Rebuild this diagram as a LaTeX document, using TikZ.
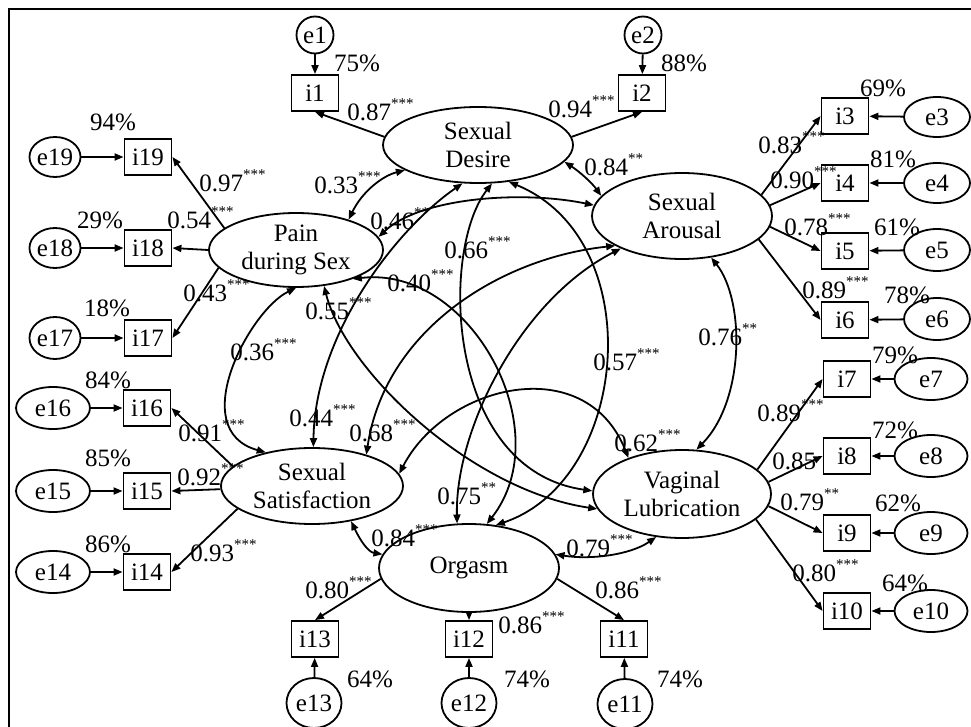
\documentclass[tikz,border=0pt]{standalone}
\usepackage{fontspec}
\setmainfont{Liberation Serif}
\usetikzlibrary{shapes.geometric,arrows.meta}
\newcommand\sig[1]{\raisebox{12pt}{\fontsize{15}{15}\selectfont #1}}
\newcommand\lb[4]{\node[lbl] (#1) at ({#2-21.9},{#3+8.5}) {#4};}
\newcommand\pc[4]{\node[pct] (#1) at (#2,{#3+8.5}) {#4};}
\begin{document}
\begin{tikzpicture}[x=1pt,y=-1pt,
  every node/.style={font=\fontsize{25}{28}\selectfont},
  lat/.style={ellipse,draw,line width=1.8pt,inner sep=0pt,align=center},
  obs/.style={rectangle,draw,line width=1.8pt,minimum width=47pt,minimum height=36pt,inner sep=0pt},
  err/.style={ellipse,draw,line width=1.8pt,inner sep=0pt},
  ld/.style={line width=1.8pt,-{Triangle[length=9pt,width=7pt]}},
  cv/.style={line width=1.8pt,{Triangle[length=9pt,width=7pt]}-{Triangle[length=9pt,width=7pt]}},
  lbl/.style={anchor=base west,inner sep=0pt},
  pct/.style={anchor=base,inner sep=0pt}]
\useasboundingbox (0,0) rectangle (971,727);
\draw[line width=2pt] (9,740) -- (9,9) -- (985,9);

% latent factors
\node[lat,minimum width=190pt,minimum height=76pt] (D) at (478,145) {Sexual\\Desire};
\node[lat,minimum width=180pt,minimum height=86pt] (A) at (682,216) {Sexual\\Arousal};
\node[lat,minimum width=174pt,minimum height=74pt] (P) at (296,250) {Pain\\during Sex};
\node[lat,minimum width=182pt,minimum height=76pt] (S) at (312,486) {Sexual\\Satisfaction};
\node[lat,minimum width=180pt,minimum height=88pt] (O) at (469,568) {Orgasm};
\node[lat,minimum width=178pt,minimum height=88pt] (V) at (682,494) {Vaginal\\Lubrication};

% indicators
\node[obs] (i1) at (315,93) {i1};
\node[obs] (i2) at (642,93) {i2};
\node[obs] (i3) at (845,116) {i3};
\node[obs] (i4) at (845,183) {i4};
\node[obs] (i5) at (845,251) {i5};
\node[obs] (i6) at (845,320) {i6};
\node[obs] (i7) at (847,379) {i7};
\node[obs] (i8) at (847,456) {i8};
\node[obs] (i9) at (847,533) {i9};
\node[obs] (i10) at (847,611) {i10};
\node[obs] (i11) at (624,639) {i11};
\node[obs] (i12) at (469,639) {i12};
\node[obs] (i13) at (315,639) {i13};
\node[obs] (i14) at (147,572) {i14};
\node[obs] (i15) at (147,491) {i15};
\node[obs] (i16) at (147,408) {i16};
\node[obs] (i17) at (148,338) {i17};
\node[obs] (i18) at (148,248) {i18};
\node[obs] (i19) at (148,157) {i19};

% errors
\node[err,minimum width=37pt,minimum height=37pt] (e1) at (315,35) {e1};
\node[err,minimum width=37pt,minimum height=37pt] (e2) at (643,35) {e2};
\node[err,minimum width=66pt,minimum height=40pt] (e3) at (937,117) {e3};
\node[err,minimum width=66pt,minimum height=40pt] (e4) at (937,183) {e4};
\node[err,minimum width=66pt,minimum height=42pt] (e5) at (937,250) {e5};
\node[err,minimum width=66pt,minimum height=42pt] (e6) at (937,319) {e6};
\node[err,minimum width=73pt,minimum height=42pt] (e7) at (931,379) {e7};
\node[err,minimum width=73pt,minimum height=42pt] (e8) at (931,456) {e8};
\node[err,minimum width=73pt,minimum height=42pt] (e9) at (931,533) {e9};
\node[err,minimum width=73pt,minimum height=42pt] (e10) at (931,611) {e10};
\node[err,minimum width=55pt,minimum height=50pt] (e11) at (625,704) {e11};
\node[err,minimum width=55pt,minimum height=50pt] (e12) at (469,703) {e12};
\node[err,minimum width=55pt,minimum height=50pt] (e13) at (314,703) {e13};
\node[err,minimum width=74pt,minimum height=42pt] (e14) at (53,572) {e14};
\node[err,minimum width=74pt,minimum height=42pt] (e15) at (53,491) {e15};
\node[err,minimum width=74pt,minimum height=42pt] (e16) at (53,408) {e16};
\node[err,minimum width=47pt,minimum height=42pt] (e17) at (55,338) {e17};
\node[err,minimum width=47pt,minimum height=40pt] (e18) at (55,248) {e18};
\node[err,minimum width=47pt,minimum height=40pt] (e19) at (55,157) {e19};

% error arrows
\foreach \k in {1,...,19} {\draw[ld] (e\k) -- (i\k);}

% loadings
\draw[ld] (D.175) -- (i1.south);
\draw[ld] (D.5) -- (i2.south);
\draw[ld] (A.15) -- (i3.west);
\draw[ld] (A.7) -- (i4.west);
\draw[ld] (A.-7) -- (i5.west);
\draw[ld] (A.-17) -- (i6.west);
\draw[ld] (V.18) -- (i7.west);
\draw[ld] (V.8) -- (i8.west);
\draw[ld] (V.-8) -- (i9.west);
\draw[ld] (V.-19) -- (i10.west);
\draw[ld] (O.-7) -- (i11.north);
\draw[ld] (O.south) -- (i12.north);
\draw[ld] (O.187) -- (i13.north);
\draw[ld] (S.197) -- (i14.east);
\draw[ld] (S.182) -- (i15.east);
\draw[ld] (S.166) -- (i16.east);
\draw[ld] (P.193) -- (i17.east);
\draw[ld] (P.west) -- (i18.east);
\draw[ld] (P.163) -- (i19.east);

% covariances
\draw[cv] (D.199) .. controls (382,176) and (362,192) .. (P.30);
\draw[cv] (D.349) .. controls (580,172) and (592,183) .. (A.166);
\draw[cv] (P.9) .. controls (420,198) and (520,190) .. (A.173);
\draw[cv] (D.248) .. controls (395,230) and (315,335) .. (S.88);
\draw[cv] (P.south) .. controls (250,310) and (185,430) .. (S.144);
\draw[cv] (P.333) .. controls (470,265) and (560,430) .. (O.68);
\draw[cv] (D.310) .. controls (650,240) and (630,480) .. (O.58);
\draw[cv] (A.208) .. controls (520,300) and (455,430) .. (O.105);
\draw[cv] (A.204) .. controls (500,258) and (385,330) .. (S.30);
\draw[cv] (S.8) .. controls (445,385) and (585,350) .. (V.146);
\draw[cv] (A.305) .. controls (745,300) and (745,400) .. (V.72);
\draw[cv] (S.318) .. controls (360,540) and (368,552) .. (O.171);
\draw[cv] (O.9) .. controls (590,560) and (630,555) .. (V.239);
\draw[cv] (P.308) .. controls (345,370) and (470,490) .. (V.190);
\draw[cv] (D.290) .. controls (440,250) and (445,470) .. (V.178);

% coefficient labels
\lb{l1}{369}{112}{0.87\sig{***}}
\lb{l2}{570}{109}{0.94\sig{***}}
\lb{l3}{606}{167}{0.84\sig{**}}
\lb{l4}{336}{185}{0.33\sig{***}}
\lb{l5}{392}{221}{0.46\sig{**}}
\lb{l6}{466}{250}{0.66\sig{***}}
\lb{l7}{409}{283}{0.40\sig{***}}
\lb{l8}{327}{311}{0.55\sig{***}}
\lb{l9}{252}{352}{0.36\sig{***}}
\lb{l10}{311}{418}{0.44\sig{***}}
\lb{l11}{371}{433}{0.68\sig{***}}
\lb{l12}{615}{362}{0.57\sig{***}}
\lb{l13}{636}{443}{0.62\sig{***}}
\lb{l14}{720}{337}{0.76\sig{**}}
\lb{l15}{459}{496}{0.75\sig{**}}
\lb{l16}{393}{538}{0.84\sig{***}}
\lb{l17}{588}{548}{0.79\sig{***}}
\lb{l18}{327}{590}{0.80\sig{***}}
\lb{l19}{520}{625}{0.86\sig{***}}
\lb{l20}{617}{590}{0.86\sig{***}}
\lb{l21}{780}{145}{0.83\sig{***}}
\lb{l22}{792}{180}{0.90\sig{***}}
\lb{l23}{806}{227}{0.78\sig{***}}
\lb{l24}{824}{290}{0.89\sig{***}}
\lb{l25}{779}{413}{0.89\sig{***}}
\lb{l26}{794}{461}{0.85}
\lb{l27}{802}{502}{0.79\sig{**}}
\lb{l28}{814}{573}{0.80\sig{***}}
\lb{l29}{221}{183}{0.97\sig{***}}
\lb{l30}{189}{220}{0.54\sig{***}}
\lb{l31}{205}{293}{0.43\sig{***}}
\lb{l32}{200}{433}{0.91\sig{***}}
\lb{l33}{199}{477}{0.92\sig{***}}
\lb{l34}{212}{553}{0.93\sig{***}}

% percentages
\pc{p1}{357}{63}{75\%}
\pc{p2}{684}{63}{88\%}
\pc{p3}{883}{88}{69\%}
\pc{p4}{893}{159}{81\%}
\pc{p5}{897}{227}{61\%}
\pc{p6}{907}{295}{78\%}
\pc{p7}{895}{355}{79\%}
\pc{p8}{895}{430}{72\%}
\pc{p9}{898}{503}{62\%}
\pc{p10}{905}{583}{64\%}
\pc{p11}{680}{679}{74\%}
\pc{p12}{527}{679}{74\%}
\pc{p13}{370}{679}{64\%}
\pc{p14}{108}{544}{86\%}
\pc{p15}{108}{458}{85\%}
\pc{p16}{108}{380}{84\%}
\pc{p17}{107}{308}{18\%}
\pc{p18}{100}{220}{29\%}
\pc{p19}{113}{122}{94\%}
\end{tikzpicture}
\end{document}
